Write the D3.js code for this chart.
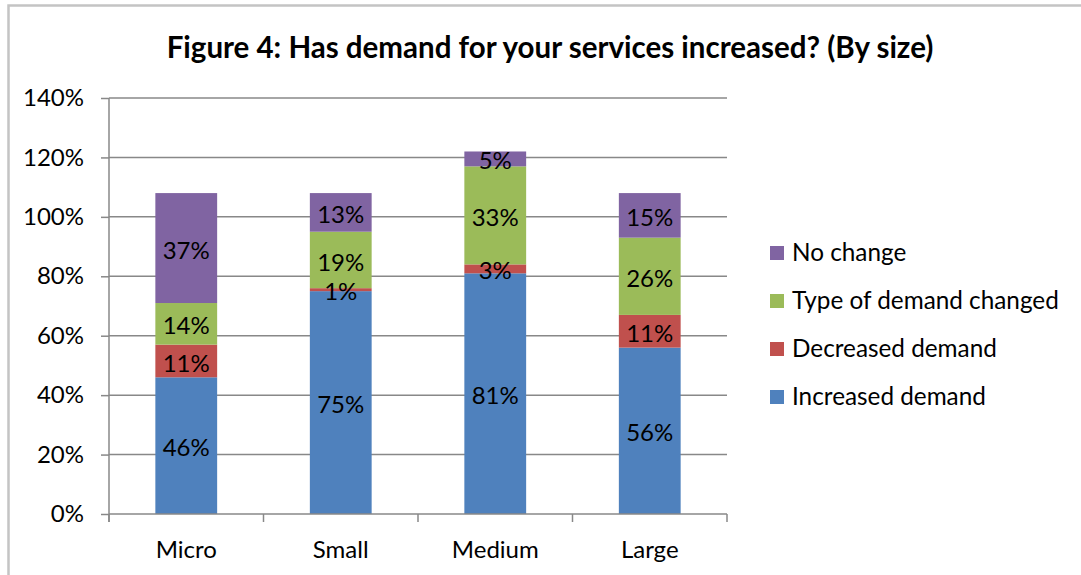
<!DOCTYPE html>
<html>
<head>
<meta charset="utf-8">
<script src="https://cdn.jsdelivr.net/npm/d3@7"></script>
<style>
  html, body { margin: 0; padding: 0; background: #fff; }
  svg { display: block; font-family: Lato, "Open Sans", sans-serif; }
</style>
</head>
<body>
<svg id="chart" width="1081" height="575"></svg>
<script>
// Survey results by organisation size (percent of respondents)
const categories = ["Micro", "Small", "Medium", "Large"];
const increasedDemand = [46, 75, 81, 56];
const decreasedDemand = [11, 1, 3, 11];
const typeOfDemandChanged = [14, 19, 33, 26];
const noChange = [37, 13, 5, 15];
const yTicks = [0, 20, 40, 60, 80, 100, 120, 140];

const seriesNames = ["Increased demand", "Decreased demand", "Type of demand changed", "No change"];
const seriesValues = [increasedDemand, decreasedDemand, typeOfDemandChanged, noChange];
const seriesColors = ["#4f81bd", "#c0504d", "#9bbb59", "#8064a2"];

const svg = d3.select("#chart");
const plot = { left: 109, right: 727, top: 98, bottom: 514 };
const axisColor = "#888888";
const fontSize = 24;

// Outer chart frame
svg.append("rect")
  .attr("x", 8.5).attr("y", 5.5)
  .attr("width", 1200).attr("height", 700)
  .attr("fill", "none").attr("stroke", "#c4c4c4").attr("stroke-width", 2.5);

// Title
svg.append("text")
  .attr("x", 550).attr("y", 58)
  .attr("text-anchor", "middle")
  .attr("font-size", 29.5).attr("font-weight", "bold")
  .attr("fill", "#000")
  .text("Figure 4: Has demand for your services increased? (By size)");

const x = d3.scaleBand().domain(categories).range([plot.left, plot.right]).paddingInner(0).paddingOuter(0);
const y = d3.scaleLinear().domain([0, 140]).range([plot.bottom, plot.top]);
const barWidth = x.bandwidth() * 0.4;

// Horizontal gridlines
svg.append("g").selectAll("line").data(yTicks.filter(t => t > 0)).join("line")
  .attr("x1", plot.left).attr("x2", plot.right)
  .attr("y1", d => y(d)).attr("y2", d => y(d))
  .attr("stroke", axisColor).attr("stroke-width", 1.5);

// Stacked data
const rows = categories.map((c, i) => {
  const r = { category: c };
  seriesNames.forEach((s, j) => r[s] = seriesValues[j][i]);
  return r;
});
const stacked = d3.stack().keys(seriesNames)(rows);

const layers = svg.append("g").selectAll("g").data(stacked).join("g")
  .attr("fill", (d, i) => seriesColors[i]);

layers.selectAll("rect").data(d => d).join("rect")
  .attr("x", d => x(d.data.category) + (x.bandwidth() - barWidth) / 2)
  .attr("width", barWidth)
  .attr("y", d => y(d[1]))
  .attr("height", d => y(d[0]) - y(d[1]));

// Segment value labels
const labels = svg.append("g").selectAll("g").data(stacked).join("g");
labels.selectAll("text").data(d => d.map(p => ({ p, key: d.key }))).join("text")
  .attr("x", d => x(d.p.data.category) + x.bandwidth() / 2)
  .attr("y", d => (y(d.p[0]) + y(d.p[1])) / 2)
  .attr("dy", "0.44em")
  .attr("text-anchor", "middle")
  .attr("font-size", fontSize)
  .attr("fill", "#000")
  .text(d => d.p.data[d.key] + "%");

// Y axis
const yAxis = svg.append("g").attr("transform", `translate(${plot.left},0)`)
  .call(d3.axisLeft(y).tickValues(yTicks).tickFormat(d => d + "%").tickSize(8).tickPadding(17));
yAxis.select(".domain").attr("stroke", axisColor).attr("stroke-width", 1.5)
  .attr("d", `M0,${plot.top}V${plot.bottom + 8}`);
yAxis.selectAll(".tick line").attr("stroke", axisColor).attr("stroke-width", 1.5);
yAxis.selectAll(".tick text").attr("font-size", fontSize).attr("font-family", "Lato, sans-serif").attr("fill", "#000");

// X axis
const xAxisG = svg.append("g").attr("transform", `translate(0,${plot.bottom})`);
xAxisG.append("line")
  .attr("x1", plot.left).attr("x2", plot.right)
  .attr("stroke", axisColor).attr("stroke-width", 1.5);
const boundaries = categories.map(c => x(c)).concat([plot.right]);
xAxisG.selectAll(".bound").data(boundaries).join("line")
  .attr("class", "bound")
  .attr("x1", d => d).attr("x2", d => d)
  .attr("y1", 0).attr("y2", 8)
  .attr("stroke", axisColor).attr("stroke-width", 1.5);
xAxisG.selectAll("text").data(categories).join("text")
  .attr("x", d => x(d) + x.bandwidth() / 2)
  .attr("y", 44)
  .attr("text-anchor", "middle")
  .attr("font-size", fontSize)
  .attr("fill", "#000")
  .text(d => d);

// Legend (top entry is the top of the stack)
const legendOrder = seriesNames.map((s, i) => ({ name: s, color: seriesColors[i] })).reverse();
const legend = svg.append("g").selectAll("g").data(legendOrder).join("g")
  .attr("transform", (d, i) => `translate(770,${253 + i * 48})`);
legend.append("rect")
  .attr("x", 0).attr("y", -7).attr("width", 14).attr("height", 14)
  .attr("fill", d => d.color);
legend.append("text")
  .attr("x", 22).attr("y", 0).attr("dy", "0.34em")
  .attr("font-size", 24.3)
  .attr("fill", "#000")
  .text(d => d.name);
</script>
</body>
</html>
